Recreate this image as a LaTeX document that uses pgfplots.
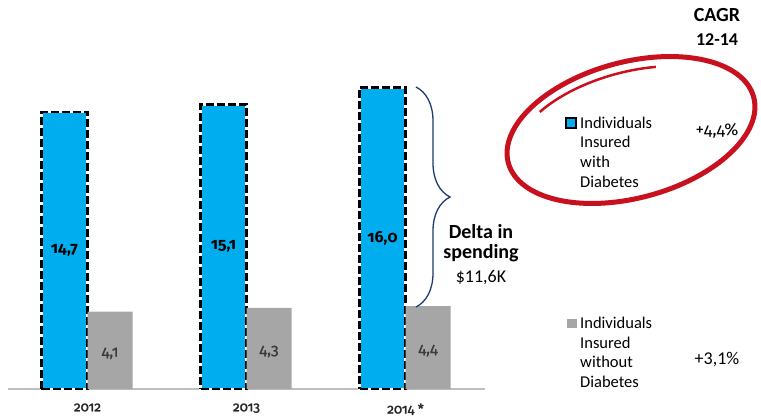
\documentclass[border=0pt]{standalone}
\usepackage{pgfplots}
\pgfplotsset{compat=1.18}
\usepackage{fontspec}
\setmainfont{Carlito}
\newfontfamily\numfont{Fira Sans}[Numbers=OldStyle]
\newfontfamily\numfontsb{Fira Sans}[Numbers=OldStyle, FakeBold=1.6]
\newfontfamily\numfontm{Fira Sans}[Numbers=OldStyle, FakeBold=0.8]
\usetikzlibrary{decorations.pathreplacing}
\definecolor{cblue}{HTML}{00AEEF}
\definecolor{cgray}{HTML}{A6A6A6}
\definecolor{cnavy}{HTML}{1F3A6E}
\definecolor{cred}{HTML}{C8101E}
\definecolor{ctxt}{HTML}{3A3A3A}
\begin{document}
\begin{tikzpicture}[x=1pt,y=1pt]
\path[use as bounding box] (0,0) rectangle (761,418);
\begin{axis}[
  at={(8pt,29pt)}, anchor=south west,
  scale only axis, width=477pt, height=389pt,
  xmin=-0.5, xmax=2.5, ymin=0, ymax=20.64,
  axis x line*=bottom, axis y line=none,
  x axis line style={draw=black!25, line width=1.5pt, -},
  xtick={0,1,2}, xticklabels={2012,2013,2014 *},
  major tick length=0pt,
  xticklabel style={font=\numfontsb\fontsize{13.5}{15}\selectfont, text=black!85, yshift=-11pt},
  clip=false,
]
% blue bars: white underlay then dashed black border
\addplot[ybar, bar width=46pt, bar shift=-23pt, fill=cblue, draw=white, line width=2.8pt]
  coordinates {(0,14.7) (1,15.1) (2,16.0)};
\addplot[ybar, bar width=46pt, bar shift=-23pt, fill=none, draw=black, line width=2.8pt, dash pattern=on 8pt off 3pt]
  coordinates {(0,14.7) (1,15.1) (2,16.0)};
% gray bars
\addplot[ybar, bar width=45pt, bar shift=22.5pt, fill=cgray, draw=none]
  coordinates {(0,4.1) (1,4.3) (2,4.4)};
% labels
\addplot[only marks, mark=none, nodes near coords, point meta=explicit symbolic,
  every node near coord/.append style={anchor=center, xshift=-23pt, text=black,
    font=\numfont\bfseries\fontsize{16}{18}\selectfont}]
  coordinates {(0,7.35) [14{,}7] (1,7.55) [15{,}1] (2,8.0) [16{,}0]};
\addplot[only marks, mark=none, nodes near coords, point meta=explicit symbolic,
  every node near coord/.append style={anchor=center, xshift=22.5pt, yshift=-3pt, text=ctxt,
    font=\numfontm\fontsize{15.5}{18}\selectfont}]
  coordinates {(0,2.05) [4{,}1] (1,2.15) [4{,}3] (2,2.2) [4{,}4]};
\end{axis}
% brace
\draw[cnavy, line width=1.3pt, decorate, decoration={brace, amplitude=34pt, aspect=0.5}]
  (416,331) -- (416,111);
\node[font=\bfseries\fontsize{20}{22}\selectfont] at (481,186) {Delta in};
\node[font=\bfseries\fontsize{20}{22}\selectfont] at (481,165) {spending};
\node[font=\fontsize{18}{20}\selectfont] at (481,140) {\$11,6K};
% CAGR header
\node[font=\bfseries\fontsize{20}{22}\selectfont] at (717,403) {CAGR};
\node[font=\bfseries\fontsize{18}{20}\selectfont] at (717,378) {12-14};
% red circle
\begin{scope}[shift={(631,288)}, rotate=15]
  \draw[cred, line width=5pt] (0,0) ellipse [x radius=127, y radius=68];
  \draw[cred, line width=2.5pt] (70:118 and 58) arc[start angle=70, end angle=135, x radius=118, y radius=58];
\end{scope}
% legend 1
\draw[fill=cblue, draw=black, line width=1.2pt] (566,290) rectangle (576,300);
\begin{scope}[every node/.style={anchor=west, inner sep=0pt, font=\fontsize{16.5}{18}\selectfont}]
\node at (580,295) {Individuals};
\node at (580,276) {Insured};
\node at (580,256) {with};
\node at (580,236) {Diabetes};
\node at (580,95) {Individuals};
\node at (580,75) {Insured};
\node at (580,56) {without};
\node at (580,36) {Diabetes};
\end{scope}
\node[font=\numfont\fontsize{17}{20}\selectfont] at (717,287) {+4,4\%};
\fill[cgray] (567,90) rectangle (577,99);
\node[font=\fontsize{18}{20}\selectfont] at (717,58) {+3,1\%};
\end{tikzpicture}
\end{document}
